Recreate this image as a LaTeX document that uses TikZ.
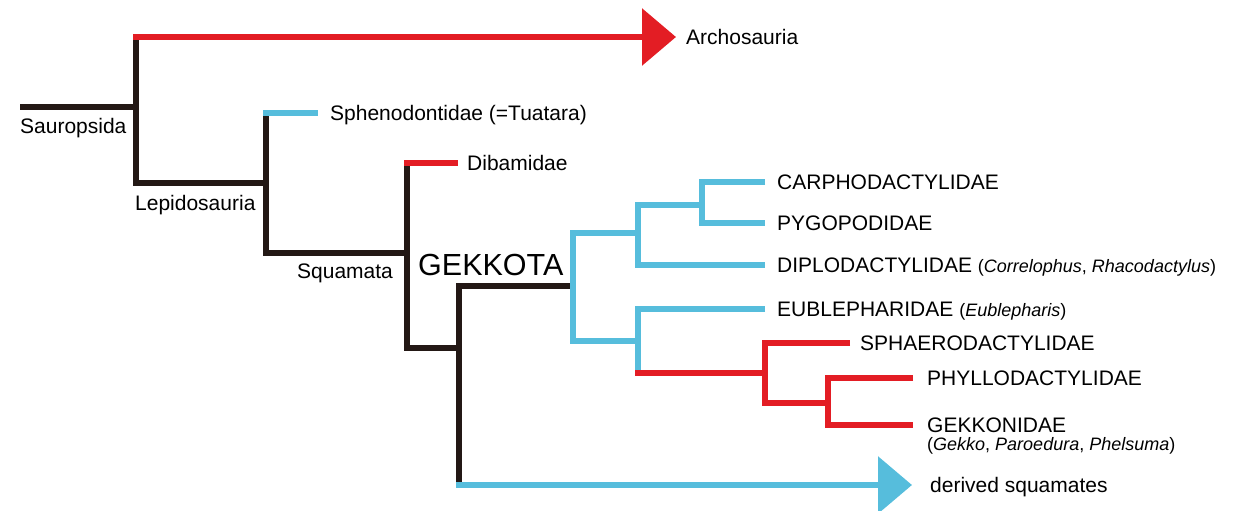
\documentclass[tikz,border=0pt]{standalone}
\usepackage{fontspec}
\setmainfont{Liberation Sans}
\usetikzlibrary{arrows.meta,positioning}

\definecolor{treered}{RGB}{227,29,36}
\definecolor{treeblue}{RGB}{86,189,220}
\definecolor{treeblack}{RGB}{35,24,21}
\newcommand{\gname}[1]{{\fontsize{18}{21}\selectfont #1}}

\begin{document}
\begin{tikzpicture}[x=1pt,y=-1pt,
    branch/.style={line width=6.3pt},
    bigarrow/.style={-{Triangle[length=34pt,width=56pt]}},
    taxon/.style={anchor=west, inner sep=0pt, text height=15pt, text depth=0pt,
      font=\fontsize{21}{25}\selectfont},
    clade/.style={anchor=base west, inner sep=0pt, font=\fontsize{21}{25}\selectfont}]
  \useasboundingbox (0,0) rectangle (1235,511);

  % junctions
  \coordinate (base) at (20,107);
  \coordinate (sau) at (136,107);
  \coordinate (lep) at (266,183);
  \coordinate (squ) at (407,253);
  \coordinate (gek) at (459,348);
  \coordinate (gkt) at (573,286);
  \coordinate (a1) at (638,233);
  \coordinate (a2) at (702,205);
  \coordinate (b1) at (638,341);
  \coordinate (b2) at (765,373);
  \coordinate (b3) at (828,403);

  % tips
  \coordinate (t-arch) at (676,37);
  \coordinate (t-sphen) at (318,113);
  \coordinate (t-dibam) at (458,163);
  \coordinate (t-carph) at (765,182);
  \coordinate (t-pygo) at (765,223);
  \coordinate (t-diplo) at (765,265);
  \coordinate (t-eubl) at (765,309);
  \coordinate (t-sphae) at (850,343);
  \coordinate (t-phyll) at (913,378);
  \coordinate (t-gekko) at (913,425);
  \coordinate (t-deriv) at (912,485);

  % black stem
  \draw[branch, treeblack] (base) -- (sau);
  \draw[branch, treeblack] (sau |- t-arch) |- (lep);
  \draw[branch, treeblack] (lep |- t-sphen) |- (squ);
  \draw[branch, treeblack] (squ |- t-dibam) |- (gek);
  \draw[branch, treeblack] (gkt) -| (gek |- t-deriv);

  % side branches
  \draw[branch, treered, bigarrow] ([xshift=-3pt]sau |- t-arch) -- (t-arch);
  \draw[branch, treeblue] ([xshift=-3pt]lep |- t-sphen) -- (t-sphen);
  \draw[branch, treered] ([xshift=-3pt]squ |- t-dibam) -- (t-dibam);
  \draw[branch, treeblue, bigarrow] ([xshift=-3pt]gek |- t-deriv) -- (t-deriv);

  % gekkota
  \draw[branch, treeblue] (a1) -| (gkt) |- (b1);
  \draw[branch, treeblue] (a2) -| (a1 |- t-diplo) -- (t-diplo);
  \draw[branch, treeblue] (t-carph) -| (a2 |- t-pygo) -- (t-pygo);
  \draw[branch, treeblue] (t-eubl) -| (b1 |- b2);
  \draw[branch, treered] ([xshift=-3pt]b1 |- b2) -- (b2);
  \draw[branch, treered] (t-sphae) -| (b2 |- b3) -- (b3);
  \draw[branch, treered] (t-phyll) -| (b3 |- t-gekko) -- (t-gekko);

  % labels
  \node[clade] (sauropsida) at (20,133) {Sauropsida};
  \node[clade] (lepidosauria) at (135,210) {Lepidosauria};
  \node[clade] (squamata) at (297,278) {Squamata};
  \node[clade, font=\fontsize{30.5}{36}\selectfont] (gekkota) at (418,275) {GEKKOTA};

  \node[taxon, right=10pt of t-arch] (archo) {Archosauria};
  \node[taxon, right=12pt of t-sphen] (spheno) {Sphenodontidae (=Tuatara)};
  \node[taxon, right=9pt of t-dibam] (dibam) {Dibamidae};
  \node[taxon, right=12pt of t-carph] (carpho) {CARPHODACTYLIDAE};
  \node[taxon, right=12pt of t-pygo] (pygo) {PYGOPODIDAE};
  \node[taxon, right=12pt of t-diplo] (diplo) {DIPLODACTYLIDAE \gname{(\textit{Correlophus}, \textit{Rhacodactylus})}};
  \node[taxon, right=12pt of t-eubl] (eublep) {EUBLEPHARIDAE \gname{(\textit{Eublepharis})}};
  \node[taxon, right=10pt of t-sphae] (sphaero) {SPHAERODACTYLIDAE};
  \node[taxon, right=14pt of t-phyll] (phyllo) {PHYLLODACTYLIDAE};
  \node[taxon, right=14pt of t-gekko] (gekkon) {GEKKONIDAE};
  \node[clade, font=\fontsize{18}{21}\selectfont] (gekkonote) at ([yshift=-18pt]gekkon.south west)
    {(\textit{Gekko}, \textit{Paroedura}, \textit{Phelsuma})};
  \node[taxon, right=18pt of t-deriv] (derived) {derived squamates};
\end{tikzpicture}
\end{document}
